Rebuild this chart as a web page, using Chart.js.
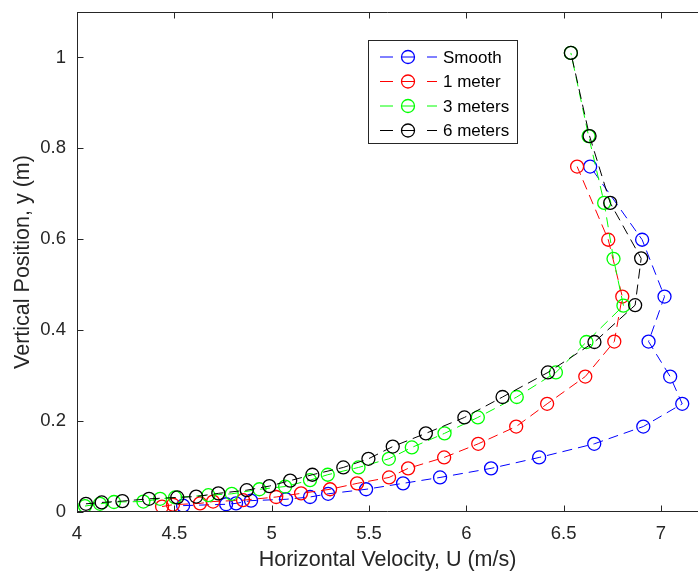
<!DOCTYPE html>
<html>
<head>
<meta charset="utf-8">
<script src="https://cdn.jsdelivr.net/npm/chart.js@4.4.1/dist/chart.umd.min.js"></script>
<style>
  html, body { margin: 0; padding: 0; background: #fff; }
  canvas { display: block; }
</style>
</head>
<body>
<canvas id="perfil" width="698" height="575"></canvas>
<script>
// valores (de abajo hacia arriba)
const smoothU = [4.545, 4.766, 4.817, 4.894, 5.074, 5.197, 5.290, 5.485, 5.675, 5.865, 6.127, 6.374, 6.657, 6.909, 7.109, 7.047, 6.936, 7.018, 6.903, 6.636];
const smoothY = [0.014, 0.017, 0.019, 0.025, 0.028, 0.033, 0.040, 0.050, 0.063, 0.076, 0.096, 0.120, 0.150, 0.188, 0.238, 0.298, 0.375, 0.474, 0.599, 0.760];

const oneMeterU = [4.437, 4.493, 4.632, 4.699, 4.853, 5.023, 5.151, 5.300, 5.439, 5.603, 5.701, 5.886, 6.061, 6.256, 6.415, 6.611, 6.760, 6.801, 6.729, 6.569];
const oneMeterY = [0.012, 0.016, 0.019, 0.023, 0.026, 0.033, 0.041, 0.050, 0.063, 0.076, 0.096, 0.120, 0.150, 0.188, 0.238, 0.298, 0.375, 0.474, 0.599, 0.760];

const threeMeterU = [4.041, 4.118, 4.190, 4.341, 4.427, 4.504, 4.675, 4.795, 4.937, 5.069, 5.197, 5.288, 5.446, 5.602, 5.720, 5.888, 6.059, 6.259, 6.460, 6.617, 6.807, 6.756, 6.708, 6.628, 6.537];
const threeMeterY = [0.013, 0.018, 0.022, 0.023, 0.029, 0.032, 0.037, 0.040, 0.050, 0.056, 0.070, 0.082, 0.098, 0.117, 0.142, 0.173, 0.208, 0.253, 0.307, 0.374, 0.454, 0.557, 0.680, 0.827, 1.010];

const sixMeterU = [4.046, 4.127, 4.233, 4.370, 4.515, 4.612, 4.726, 4.872, 4.988, 5.095, 5.209, 5.368, 5.497, 5.622, 5.792, 5.990, 6.186, 6.419, 6.658, 6.867, 6.898, 6.739, 6.633, 6.537];
const sixMeterY = [0.018, 0.021, 0.024, 0.029, 0.032, 0.034, 0.041, 0.048, 0.057, 0.069, 0.082, 0.098, 0.117, 0.144, 0.173, 0.208, 0.253, 0.307, 0.374, 0.455, 0.558, 0.680, 0.827, 1.010];

const seriesNames = ['Smooth', '1 meter', '3 meters', '6 meters'];
const xTicks = [4, 4.5, 5, 5.5, 6, 6.5, 7];
const yTicks = [0, 0.2, 0.4, 0.6, 0.8, 1];

const axisColor = '#262626';
const fontFamily = '"Liberation Sans", Arial, sans-serif';

function toPoints(us, ys) {
    return us.map((u, i) => ({ x: u, y: ys[i] }));
}

function serie(label, us, ys, color, order) {
    return {
        label: label,
        data: toPoints(us, ys),
        showLine: true,
        borderColor: color,
        borderWidth: 1,
        borderDash: [10, 6],
        pointStyle: 'circle',
        pointRadius: 6.5,
        pointHoverRadius: 6.5,
        pointBorderWidth: 1.3,
        pointBorderColor: color,
        pointBackgroundColor: 'rgba(0,0,0,0)',
        tension: 0,
        order: order
    };
}

// sin relleno extra de chart.js alrededor del area
function sinPadding(scale) {
    scale.paddingTop = 0;
    scale.paddingBottom = 0;
    scale.paddingLeft = 0;
    scale.paddingRight = 0;
}

// marco, ticks hacia adentro y leyenda tipo matlab
const marcoPlugin = {
    id: 'marco',
    afterDatasetsDraw(chart) {
        const ctx = chart.ctx;
        const a = chart.chartArea;
        const xs = chart.scales.x;
        const ys = chart.scales.y;
        const tick = 6.5;
        ctx.save();
        ctx.strokeStyle = axisColor;
        ctx.lineWidth = 1;
        ctx.setLineDash([]);
        ctx.beginPath();
        ctx.moveTo(a.left + 0.5, a.top + 0.5);
        ctx.lineTo(a.right, a.top + 0.5);
        ctx.moveTo(a.left + 0.5, a.top);
        ctx.lineTo(a.left + 0.5, a.bottom - 0.5);
        ctx.lineTo(a.right, a.bottom - 0.5);
        xTicks.forEach(v => {
            const px = Math.round(xs.getPixelForValue(v)) + 0.5;
            ctx.moveTo(px, a.bottom);
            ctx.lineTo(px, a.bottom - tick);
            ctx.moveTo(px, a.top);
            ctx.lineTo(px, a.top + tick);
        });
        yTicks.forEach(v => {
            const py = Math.round(ys.getPixelForValue(v)) + 0.5;
            ctx.moveTo(a.left, py);
            ctx.lineTo(a.left + tick, py);
        });
        ctx.stroke();

        // leyenda
        const bx = 368.5, by = 40.5, bw = 149, bh = 103;
        ctx.fillStyle = '#fff';
        ctx.fillRect(bx, by, bw, bh);
        ctx.strokeStyle = axisColor;
        ctx.strokeRect(bx, by, bw, bh);
        ctx.font = '17px ' + fontFamily;
        ctx.textBaseline = 'middle';
        ctx.textAlign = 'left';
        chart.data.datasets.forEach((ds, i) => {
            const y = 57 + i * 24.5;
            ctx.strokeStyle = ds.borderColor;
            ctx.lineWidth = 1;
            ctx.beginPath();
            ctx.moveTo(380, y); ctx.lineTo(393, y);
            ctx.moveTo(401, y); ctx.lineTo(415, y);
            ctx.moveTo(427, y); ctx.lineTo(437, y);
            ctx.stroke();
            ctx.lineWidth = 1.3;
            ctx.beginPath();
            ctx.arc(408, y, 6.5, 0, Math.PI * 2);
            ctx.stroke();
            ctx.fillStyle = '#000';
            ctx.fillText(ds.label, 443, y + 1);
        });
        ctx.restore();
    }
};

const ctx = document.getElementById('perfil').getContext('2d');
new Chart(ctx, {
    type: 'scatter',
    data: {
        datasets: [
            serie(seriesNames[0], smoothU, smoothY, '#0000ff', 3),
            serie(seriesNames[1], oneMeterU, oneMeterY, '#ff0000', 2),
            serie(seriesNames[2], threeMeterU, threeMeterY, '#00ff00', 1),
            serie(seriesNames[3], sixMeterU, sixMeterY, '#000000', 0)
        ]
    },
    options: {
        responsive: false,
        animation: false,
        layout: { autoPadding: false, padding: { top: 12, right: 0, left: 0, bottom: 0 } },
        plugins: {
            legend: { display: false },
            tooltip: { enabled: false }
        },
        scales: {
            x: {
                type: 'linear',
                min: 4,
                max: 7.19,
                afterBuildTicks: scale => { scale.ticks = xTicks.map(v => ({ value: v })); },
                afterFit: scale => { scale.height = 63; sinPadding(scale); },
                grid: { display: false, drawTicks: false },
                border: { display: false },
                ticks: {
                    padding: 11,
                    color: axisColor,
                    font: { family: fontFamily, size: 18.5 },
                    callback: v => String(v)
                },
                title: {
                    display: true,
                    text: 'Horizontal Velocity, U (m/s)',
                    color: axisColor,
                    font: { family: fontFamily, size: 21.5 },
                    padding: { top: 0, bottom: 2 }
                }
            },
            y: {
                type: 'linear',
                min: 0,
                max: 1.1,
                afterBuildTicks: scale => { scale.ticks = yTicks.map(v => ({ value: v })); },
                afterFit: scale => { scale.width = 77; sinPadding(scale); },
                grid: { display: false, drawTicks: false },
                border: { display: false },
                ticks: {
                    padding: 11,
                    color: axisColor,
                    font: { family: fontFamily, size: 18.5 },
                    callback: v => String(v)
                },
                title: {
                    display: true,
                    text: 'Vertical Position, y (m)',
                    color: axisColor,
                    font: { family: fontFamily, size: 21.5 },
                    padding: { top: 10, bottom: 0 }
                }
            }
        }
    },
    plugins: [marcoPlugin]
});
</script>
</body>
</html>
